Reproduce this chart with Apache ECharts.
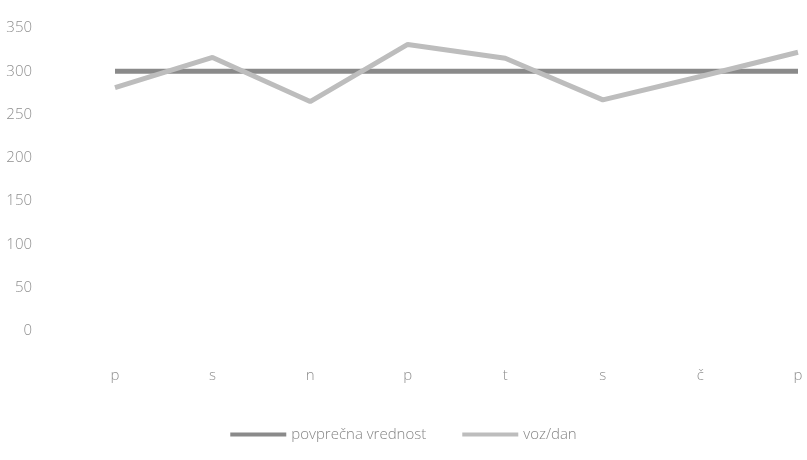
<!DOCTYPE html>
<html>
<head>
<meta charset="utf-8">
<script src="https://cdn.jsdelivr.net/npm/echarts@6/dist/echarts.min.js"></script>
<style>html,body{margin:0;padding:0;background:#fff}#c{width:807px;height:460px}</style>
</head>
<body>
<div id="c"></div>
<script>
var categories = ['p', 's', 'n', 'p', 't', 's', 'č', 'p'];
var povprecna = [300, 300, 300, 300, 300, 300, 300, 300];
var vozDan = [281, 316, 265, 331, 315, 267, 294, 322];
var yTicks = [0, 50, 100, 150, 200, 250, 300, 350];

var chart = echarts.init(document.getElementById('c'));
chart.setOption({
  animation: false,
  backgroundColor: '#ffffff',
  grid: { left: 115, right: 9, top: 28, bottom: 129 },
  legend: {
    bottom: 13,
    left: 'center',
    itemWidth: 56,
    itemHeight: 4,
    itemGap: 36,
    textStyle: { color: '#858585', fontSize: 15, fontFamily: 'Open Sans', fontWeight: 300 },
    data: [
      { name: 'povprečna vrednost', icon: 'rect' },
      { name: 'voz/dan', icon: 'rect' }
    ]
  },
  xAxis: {
    type: 'category',
    data: categories,
    boundaryGap: false,
    axisLine: { show: false },
    axisTick: { show: false },
    axisLabel: { margin: 37, color: '#8f8f8f', fontSize: 15, fontFamily: 'Open Sans', fontWeight: 300 }
  },
  yAxis: {
    type: 'value',
    min: yTicks[0],
    max: yTicks[yTicks.length - 1],
    interval: 50,
    splitLine: { show: false },
    axisLine: { show: false },
    axisTick: { show: false },
    axisLabel: { margin: 83, color: '#8f8f8f', fontSize: 15, fontFamily: 'Open Sans', fontWeight: 300 }
  },
  series: [
    {
      name: 'povprečna vrednost',
      type: 'line',
      data: povprecna,
      symbol: 'none',
      color: '#8a8a8a',
      lineStyle: { width: 5, color: '#8a8a8a' }
    },
    {
      name: 'voz/dan',
      type: 'line',
      data: vozDan,
      symbol: 'none',
      color: '#bdbdbd',
      lineStyle: { width: 5, color: '#bdbdbd' }
    }
  ]
});
</script>
</body>
</html>
